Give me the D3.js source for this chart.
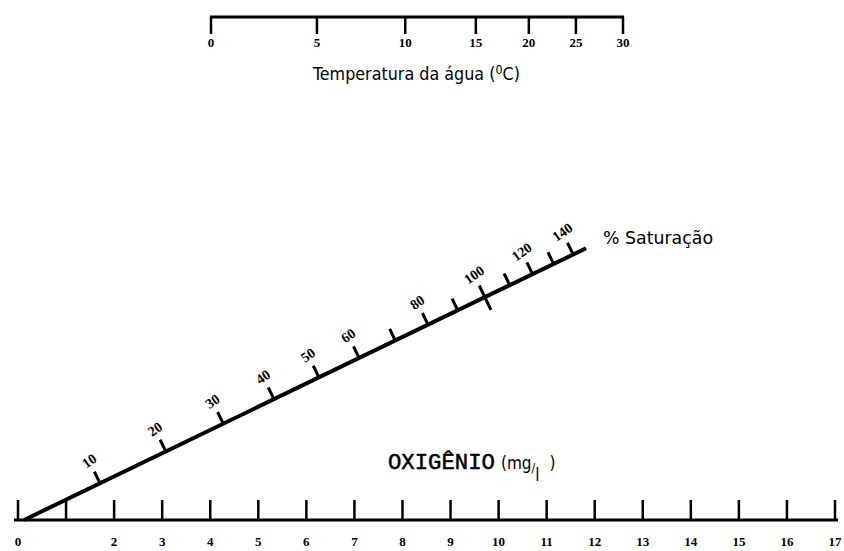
<!DOCTYPE html>
<html>
<head>
<meta charset="utf-8">
<script src="https://cdn.jsdelivr.net/npm/d3@7/dist/d3.min.js"></script>
<style>
  body { margin: 0; background: #fff; }
  svg { display: block; }
  .num { font-family: "Liberation Serif", serif; font-weight: bold; font-size: 13px; fill: #000; }
  .ttl { font-family: "DejaVu Sans Condensed", "DejaVu Sans", sans-serif; font-stretch: condensed; fill: #000; }
</style>
</head>
<body>
<div id="chart"></div>
<script>
// temperature axis: ticks placed by the oxygen solubility (mg/l) at each temperature
var tempTicks = [0, 5, 10, 15, 20, 25, 30];
var tempSolubility = [14.6, 12.8, 11.3, 10.1, 9.2, 8.4, 7.6];

// oxygen axis (mg/l)
var oxTicks = [0, 1, 2, 3, 4, 5, 6, 7, 8, 9, 10, 11, 12, 13, 14, 15, 16, 17];
var oxLabels = ["0", "", "2", "3", "4", "5", "6", "7", "8", "9", "10", "11", "12", "13", "14", "15", "16", "17"];

// % saturation diagonal
var satTicks = [10, 20, 30, 40, 50, 60, 70, 80, 90, 100, 110, 120, 130, 140];
var satLabels = ["10", "20", "30", "40", "50", "60", "", "80", "", "100", "", "120", "", "140"];

var width = 844,
    height = 551;

var svg = d3.select("#chart").append("svg")
    .attr("width", width)
    .attr("height", height);

//========== temperature scale ==========
var topY = 17;
var tempScale = d3.scaleLinear()
    .domain([d3.max(tempSolubility), d3.min(tempSolubility)])
    .range([211, 623]);

var tempG = svg.append("g");
tempG.append("line")
    .attr("x1", tempScale(d3.max(tempSolubility)) - 1)
    .attr("x2", tempScale(d3.min(tempSolubility)) + 1)
    .attr("y1", topY).attr("y2", topY)
    .attr("stroke", "#000").attr("stroke-width", 3);

var tempTick = tempG.selectAll(".ttick")
    .data(tempTicks)
    .enter().append("g")
    .attr("class", "ttick")
    .attr("transform", function(d, i) { return "translate(" + tempScale(tempSolubility[i]) + ",0)"; });
tempTick.append("line")
    .attr("y1", topY).attr("y2", topY + 17)
    .attr("stroke", "#000").attr("stroke-width", 2.5);
tempTick.append("text")
    .attr("class", "num")
    .attr("y", topY + 25)
    .attr("dy", "0.35em")
    .attr("text-anchor", "middle")
    .text(function(d) { return d; });

var tTitle = svg.append("text")
    .attr("class", "ttl")
    .attr("x", 313).attr("y", 74)
    .attr("dy", "0.35em")
    .attr("textLength", 207)
    .attr("lengthAdjust", "spacingAndGlyphs")
    .style("font-size", "17px");
tTitle.append("tspan").text("Temperatura da água (");
tTitle.append("tspan").attr("dy", "-6").style("font-size", "12px").text("0");
tTitle.append("tspan").attr("dy", "6").text("C)");

//========== oxygen scale ==========
var botY = 520;
var oxScale = d3.scaleLinear()
    .domain([0, 17])
    .range([18, 835]);

var oxG = svg.append("g");
oxG.append("line")
    .attr("x1", oxScale(0) - 4).attr("x2", oxScale(17) + 3)
    .attr("y1", botY).attr("y2", botY)
    .attr("stroke", "#000").attr("stroke-width", 3);

var oxTick = oxG.selectAll(".otick")
    .data(oxTicks)
    .enter().append("g")
    .attr("class", "otick")
    .attr("transform", function(d) { return "translate(" + oxScale(d) + ",0)"; });
oxTick.append("line")
    .attr("y1", botY).attr("y2", botY - 20)
    .attr("stroke", "#000").attr("stroke-width", 2.5);
oxTick.append("text")
    .attr("class", "num")
    .attr("y", botY + 21)
    .attr("dy", "0.35em")
    .attr("text-anchor", "middle")
    .text(function(d, i) { return oxLabels[i]; });

var oTitle = svg.append("text")
    .attr("class", "ttl")
    .attr("x", 388).attr("y", 463)
    .attr("dy", "0.35em")
    .style("font-size", "17px");
oTitle.append("tspan")
    .style("font-family", "'Liberation Mono', monospace")
    .style("font-size", "22px")
    .style("stroke", "#000")
    .style("stroke-width", "0.5px")
    .attr("textLength", 107)
    .attr("lengthAdjust", "spacingAndGlyphs")
    .text("OXIGÊNIO");
oTitle.append("tspan").attr("dx", 6).text("(mg");
oTitle.append("tspan").attr("dy", 3).style("font-size", "12px").text("/");
oTitle.append("tspan").attr("dy", 9).text("l");
oTitle.append("tspan").attr("dx", 10).attr("dy", -12).text(")");

//========== saturation diagonal ==========
var origin = [oxScale(0) + 6, botY];
var angle = 25.8 * Math.PI / 180;
var dir = [Math.cos(angle), -Math.sin(angle)];
var nrm = [-Math.sin(angle), -Math.cos(angle)];
var satK = 128.7;
// position along the diagonal (horizontal distance from origin)
var satAlong = d3.scaleLinear().domain([0, 1]).range([0, 1054]);
var satPoint = function(p) {
    var ax = satAlong(p / (p + satK));
    return [origin[0] + ax, origin[1] + ax * dir[1] / dir[0]];
};
var satEnd = 562;

var satG = svg.append("g");
satG.append("line")
    .attr("x1", origin[0]).attr("y1", origin[1])
    .attr("x2", origin[0] + satEnd).attr("y2", origin[1] + satEnd * dir[1] / dir[0])
    .attr("stroke", "#000").attr("stroke-width", 4);

var satTick = satG.selectAll(".stick")
    .data(satTicks)
    .enter().append("g")
    .attr("class", "stick");
satTick.append("line")
    .attr("x1", function(d) { var p = satPoint(d), l = d == 100 ? -14 : 0; return p[0] + nrm[0] * l; })
    .attr("y1", function(d) { var p = satPoint(d), l = d == 100 ? -14 : 0; return p[1] + nrm[1] * l; })
    .attr("x2", function(d) { var p = satPoint(d); return p[0] + nrm[0] * 13; })
    .attr("y2", function(d) { var p = satPoint(d); return p[1] + nrm[1] * 13; })
    .attr("stroke", "#000").attr("stroke-width", 3);
satTick.append("text")
    .attr("class", "num")
    .style("font-size", "14px")
    .attr("text-anchor", "middle")
    .attr("dy", "0.35em")
    .attr("transform", function(d) {
        var p = satPoint(d);
        return "translate(" + (p[0] + nrm[0] * 25) + "," + (p[1] + nrm[1] * 25) + ") rotate(-35)";
    })
    .text(function(d, i) { return satLabels[i]; });

svg.append("text")
    .attr("class", "ttl")
    .attr("x", 603).attr("y", 238)
    .attr("dy", "0.35em")
    .attr("textLength", 110)
    .attr("lengthAdjust", "spacingAndGlyphs")
    .style("font-size", "17px")
    .text("% Saturação");
</script>
</body>
</html>
